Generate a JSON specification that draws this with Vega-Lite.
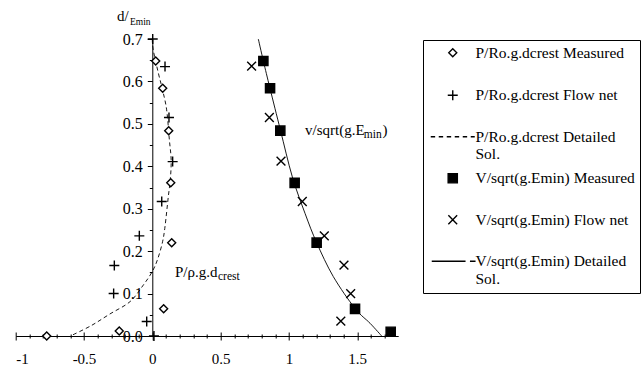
{
  "$schema": "https://vega.github.io/schema/vega-lite/v6.json",
  "width": 382.5,
  "height": 297,
  "autosize": {"type": "none"},
  "padding": {"left": 15.7, "top": 39, "right": 244.8, "bottom": 31},
  "background": "white",
  "config": {
    "font": "Liberation Serif",
    "view": {"stroke": null},
    "axis": {"grid": false, "domainColor": "black", "tickColor": "black", "labelColor": "black", "labelFont": "Liberation Serif", "labelFontSize": 14, "title": null, "domainWidth": 1, "tickWidth": 1}
  },
  "datasets": {
    "points": [
      {"series": "P/Ro.g.dcrest Measured", "x": 0.025, "y": 0.648},
      {"series": "P/Ro.g.dcrest Measured", "x": 0.076, "y": 0.584},
      {"series": "P/Ro.g.dcrest Measured", "x": 0.12, "y": 0.484},
      {"series": "P/Ro.g.dcrest Measured", "x": 0.135, "y": 0.361},
      {"series": "P/Ro.g.dcrest Measured", "x": 0.142, "y": 0.22},
      {"series": "P/Ro.g.dcrest Measured", "x": 0.083, "y": 0.064},
      {"series": "P/Ro.g.dcrest Measured", "x": -0.242, "y": 0.012},
      {"series": "P/Ro.g.dcrest Measured", "x": -0.773, "y": 0.0},
      {"series": "P/Ro.g.dcrest Flow net", "x": 0.003, "y": 0.7},
      {"series": "P/Ro.g.dcrest Flow net", "x": 0.093, "y": 0.635},
      {"series": "P/Ro.g.dcrest Flow net", "x": 0.122, "y": 0.515},
      {"series": "P/Ro.g.dcrest Flow net", "x": 0.149, "y": 0.411},
      {"series": "P/Ro.g.dcrest Flow net", "x": 0.069, "y": 0.317},
      {"series": "P/Ro.g.dcrest Flow net", "x": -0.095, "y": 0.236},
      {"series": "P/Ro.g.dcrest Flow net", "x": -0.278, "y": 0.166},
      {"series": "P/Ro.g.dcrest Flow net", "x": -0.283, "y": 0.1},
      {"series": "P/Ro.g.dcrest Flow net", "x": -0.041, "y": 0.034},
      {"series": "P/Ro.g.dcrest Flow net", "x": 0.012, "y": 0.0},
      {"series": "V/sqrt(g.Emin) Measured", "x": 0.813, "y": 0.648},
      {"series": "V/sqrt(g.Emin) Measured", "x": 0.862, "y": 0.584},
      {"series": "V/sqrt(g.Emin) Measured", "x": 0.937, "y": 0.484},
      {"series": "V/sqrt(g.Emin) Measured", "x": 1.042, "y": 0.361},
      {"series": "V/sqrt(g.Emin) Measured", "x": 1.203, "y": 0.22},
      {"series": "V/sqrt(g.Emin) Measured", "x": 1.484, "y": 0.064},
      {"series": "V/sqrt(g.Emin) Measured", "x": 1.745, "y": 0.01},
      {"series": "V/sqrt(g.Emin) Flow net", "x": 0.727, "y": 0.636},
      {"series": "V/sqrt(g.Emin) Flow net", "x": 0.857, "y": 0.515},
      {"series": "V/sqrt(g.Emin) Flow net", "x": 0.942, "y": 0.412},
      {"series": "V/sqrt(g.Emin) Flow net", "x": 1.098, "y": 0.317},
      {"series": "V/sqrt(g.Emin) Flow net", "x": 1.259, "y": 0.236},
      {"series": "V/sqrt(g.Emin) Flow net", "x": 1.403, "y": 0.167},
      {"series": "V/sqrt(g.Emin) Flow net", "x": 1.452, "y": 0.1},
      {"series": "V/sqrt(g.Emin) Flow net", "x": 1.38, "y": 0.035}
    ],
    "pcurve": [
      {"x": 0.0, "y": 0.7},
      {"x": 0.007, "y": 0.674},
      {"x": 0.044, "y": 0.62},
      {"x": 0.075, "y": 0.58},
      {"x": 0.105, "y": 0.533},
      {"x": 0.125, "y": 0.462},
      {"x": 0.138, "y": 0.415},
      {"x": 0.132, "y": 0.37},
      {"x": 0.117, "y": 0.328},
      {"x": 0.093, "y": 0.258},
      {"x": 0.075, "y": 0.222},
      {"x": 0.04, "y": 0.182},
      {"x": 0.0, "y": 0.152},
      {"x": -0.066, "y": 0.12},
      {"x": -0.163, "y": 0.081},
      {"x": -0.31, "y": 0.052},
      {"x": -0.45, "y": 0.024},
      {"x": -0.6, "y": 0.0}
    ],
    "vcurve": [
      {"x": 0.776, "y": 0.7},
      {"x": 0.813, "y": 0.648},
      {"x": 0.862, "y": 0.583},
      {"x": 0.938, "y": 0.485},
      {"x": 1.025, "y": 0.375},
      {"x": 1.118, "y": 0.289},
      {"x": 1.203, "y": 0.22},
      {"x": 1.325, "y": 0.14},
      {"x": 1.484, "y": 0.065},
      {"x": 1.594, "y": 0.03},
      {"x": 1.679, "y": 0.0}
    ],
    "mainText": [
      {"x": 0.166, "y": 0.14, "text": "P/ρ.g.d"},
      {"x": 1.118, "y": 0.474, "text": "v/sqrt(g.E"},
      {"x": 1.685, "y": 0.474, "text": ")"},
      {"x": -0.258, "y": 0.743, "text": "d/"}
    ],
    "subText": [
      {"x": 0.481, "y": 0.132, "text": "crest"},
      {"x": 1.548, "y": 0.467, "text": "min"}
    ],
    "titleSub": [
      {"x": -0.163, "y": 0.733, "text": "Emin"}
    ]
  },
  "resolve": {"axis": {"x": "independent", "y": "independent"}},
  "layer": [
    {
      "data": {"name": "pcurve"},
      "mark": {"type": "line", "stroke": "black", "strokeWidth": 0.9, "strokeDash": [4, 3], "interpolate": "cardinal"},
      "encoding": {
        "x": {"field": "x", "type": "quantitative", "scale": {"domain": [-1, 1.8], "nice": false, "zero": false},
              "axis": {"orient": "bottom", "values": [-1, -0.5, 0, 0.5, 1, 1.5], "tickSize": 4, "labelPadding": 11, "labelExpr": "datum.value + ''", "labelFontSize": 15}},
        "y": {"field": "y", "type": "quantitative", "scale": {"domain": [0, 0.7], "nice": false, "zero": false},
              "axis": {"orient": "left", "offset": -136.6, "values": [0, 0.1, 0.2, 0.3, 0.4, 0.5, 0.6, 0.7], "tickSize": 5, "labelPadding": 5, "labelFontSize": 16}},
        "order": {"value": null}
      }
    },
    {
      "data": {"name": "vcurve"},
      "mark": {"type": "line", "stroke": "black", "strokeWidth": 0.9, "interpolate": "cardinal"},
      "encoding": {
        "x": {"field": "x", "type": "quantitative",
              "axis": {"orient": "top", "offset": -297, "values": [-1, -0.5, 0, 0.5, 1, 1.5], "tickSize": 4, "labels": false, "domain": false}},
        "y": {"field": "y", "type": "quantitative",
              "axis": {"orient": "left", "offset": -136.6, "values": [0.05, 0.15, 0.25, 0.35, 0.45, 0.55, 0.65], "tickSize": 3, "labels": false, "domain": false}},
        "order": {"value": null}
      }
    },
    {
      "data": {"name": "points"},
      "mark": {"type": "point", "size": 64, "opacity": 1},
      "encoding": {
        "x": {"field": "x", "type": "quantitative",
              "axis": {"orient": "bottom", "values": [-0.9, -0.8, -0.7, -0.6, -0.4, -0.3, -0.2, -0.1, 0.1, 0.2, 0.3, 0.4, 0.6, 0.7, 0.8, 0.9, 1.1, 1.2, 1.3, 1.4, 1.6, 1.7], "tickSize": 2, "labels": false, "domain": false}},
        "y": {"field": "y", "type": "quantitative", "axis": null},
        "shape": {
          "field": "series", "type": "nominal",
          "scale": {
            "domain": ["P/Ro.g.dcrest Measured", "P/Ro.g.dcrest Flow net", "P/Ro.g.dcrest Detailed Sol.", "V/sqrt(g.Emin) Measured", "V/sqrt(g.Emin) Flow net", "V/sqrt(g.Emin) Detailed Sol."],
            "range": ["diamond", "M-1.25,0L1.25,0M0,-1.25L0,1.25", "M-5.5,0L-4.4,0M-3.5,0L-2.4,0M-1.5,0L-0.4,0M0.5,0L1.6,0M2.5,0L3.6,0M4.5,0L5.5,0", "M-1.15,-1.15L1.15,-1.15L1.15,1.15L-1.15,1.15Z", "M-1.1,-1.1L1.1,1.1M-1.1,1.1L1.1,-1.1", "M-5.25,0L3.2,0M4.3,0L5.7,0"]
          },
          "legend": {
            "orient": "none", "legendX": 407.3, "legendY": 1, "title": null,
            "strokeColor": "black", "padding": 5, "rowPadding": 7.5,
            "symbolSize": 64, "symbolOffset": 17, "labelOffset": 15,
            "labelFont": "Liberation Serif", "labelFontSize": 15.5, "labelLimit": 400, "labelColor": "black",
            "labelExpr": "split(replace(datum.label + (indexof(datum.label, 'Sol.') < 0 ? '|' : ''), ' Sol.', '|Sol.'), '|')",
            "encode": {
              "labels": {"update": {"dy": {"value": 7.75}}}
            }
          }
        },
        "fill": {
          "field": "series", "type": "nominal",
          "scale": {
            "domain": ["P/Ro.g.dcrest Measured", "P/Ro.g.dcrest Flow net", "P/Ro.g.dcrest Detailed Sol.", "V/sqrt(g.Emin) Measured", "V/sqrt(g.Emin) Flow net", "V/sqrt(g.Emin) Detailed Sol."],
            "range": ["white", "transparent", "transparent", "black", "transparent", "transparent"]
          }
        },
        "stroke": {
          "field": "series", "type": "nominal",
          "scale": {
            "domain": ["P/Ro.g.dcrest Measured", "P/Ro.g.dcrest Flow net", "P/Ro.g.dcrest Detailed Sol.", "V/sqrt(g.Emin) Measured", "V/sqrt(g.Emin) Flow net", "V/sqrt(g.Emin) Detailed Sol."],
            "range": ["black", "black", "black", "black", "black", "black"]
          }
        },
        "strokeWidth": {
          "field": "series", "type": "nominal",
          "scale": {
            "domain": ["P/Ro.g.dcrest Measured", "P/Ro.g.dcrest Flow net", "P/Ro.g.dcrest Detailed Sol.", "V/sqrt(g.Emin) Measured", "V/sqrt(g.Emin) Flow net", "V/sqrt(g.Emin) Detailed Sol."],
            "range": [1.4, 1.4, 1, 1.4, 1.4, 1]
          }
        }
      }
    },
    {
      "data": {"name": "mainText"},
      "mark": {"type": "text", "align": "left", "baseline": "alphabetic", "font": "Liberation Serif", "fontSize": 15, "color": "black"},
      "encoding": {
        "x": {"field": "x", "type": "quantitative",
              "axis": {"orient": "top", "offset": -297, "values": [-0.9, -0.8, -0.7, -0.6, -0.4, -0.3, -0.2, -0.1, 0.1, 0.2, 0.3, 0.4, 0.6, 0.7, 0.8, 0.9, 1.1, 1.2, 1.3, 1.4, 1.6, 1.7], "tickSize": 2, "labels": false, "domain": false}},
        "y": {"field": "y", "type": "quantitative", "axis": null},
        "text": {"field": "text"}
      }
    },
    {
      "data": {"name": "subText"},
      "mark": {"type": "text", "align": "left", "baseline": "alphabetic", "font": "Liberation Serif", "fontSize": 11.5, "color": "black"},
      "encoding": {
        "x": {"field": "x", "type": "quantitative", "axis": null},
        "y": {"field": "y", "type": "quantitative", "axis": null},
        "text": {"field": "text"}
      }
    },
    {
      "data": {"name": "titleSub"},
      "mark": {"type": "text", "align": "left", "baseline": "alphabetic", "font": "Liberation Serif", "fontSize": 9.5, "color": "black"},
      "encoding": {
        "x": {"field": "x", "type": "quantitative", "axis": null},
        "y": {"field": "y", "type": "quantitative", "axis": null},
        "text": {"field": "text"}
      }
    }
  ]
}
